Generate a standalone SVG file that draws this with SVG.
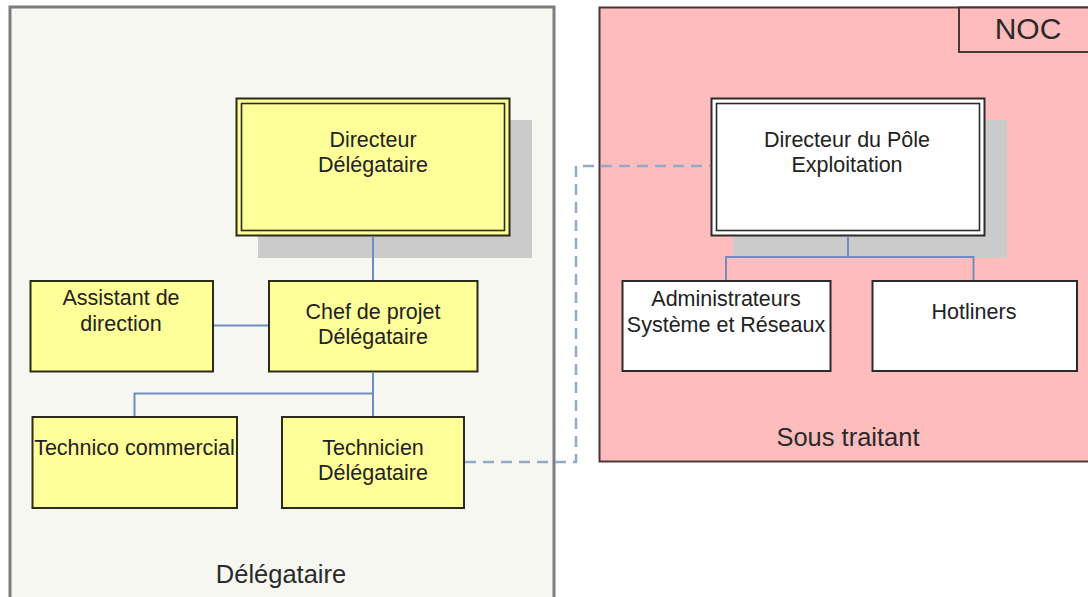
<svg xmlns="http://www.w3.org/2000/svg" width="1088" height="597" viewBox="0 0 1088 597">
<style>
.t{font-family:"Liberation Sans",Arial,sans-serif;font-size:21.5px;fill:#222;text-anchor:middle}
.lbl{font-family:"Liberation Sans",Arial,sans-serif;font-size:25.5px;fill:#2a2a2a;text-anchor:middle}
.ybox{fill:#ffff99;stroke:#2b2b1a;stroke-width:2}
.wbox{fill:#ffffff;stroke:#2b2b2b;stroke-width:2}
.shadow{fill:#cbcbcb}
.conn{fill:none;stroke:#6f8dc0;stroke-width:2}
.dash{fill:none;stroke:#93a8cb;stroke-width:2.5;stroke-dasharray:11 7}
</style>
<rect width="1088" height="597" fill="#ffffff"/>
<g id="delegataire-container">
<rect x="10" y="7" width="544" height="595" fill="#f7f7f2" stroke="#7d7d7d" stroke-width="3"/>
<text class="lbl" x="281" y="583">Délégataire</text>
</g>
<g id="sous-traitant-container">
<rect x="599.5" y="7.5" width="495" height="454" fill="#ffbcbc" stroke="#4a3838" stroke-width="2"/>
<text class="lbl" x="848" y="446">Sous traitant</text>
</g>
<g id="noc">
<rect x="959" y="7.5" width="140" height="44.5" fill="#ffbcbc" stroke="#4a3838" stroke-width="2"/>
<text x="1028" y="39" font-family="Liberation Sans,Arial,sans-serif" font-size="30" fill="#2a2a2a" text-anchor="middle">NOC</text>
</g>
<g id="directeur-delegataire">
<rect class="shadow" x="258" y="120" width="274" height="138"/>
<rect class="ybox" x="236.5" y="98.5" width="273" height="137"/>
<rect x="241.5" y="103.5" width="263" height="127" fill="none" stroke="#2b2b1a" stroke-width="1.6"/>
<text class="t" x="373" y="147">Directeur</text>
<text class="t" x="373" y="172">Délégataire</text>
</g>
<g id="assistant-direction">
<rect class="ybox" x="30.5" y="281" width="182.5" height="90.5"/>
<text class="t" x="121" y="305">Assistant de</text>
<text class="t" x="121" y="331">direction</text>
</g>
<g id="chef-projet">
<rect class="ybox" x="269" y="281" width="208.5" height="90.5"/>
<text class="t" x="373" y="319">Chef de projet</text>
<text class="t" x="373" y="344">Délégataire</text>
</g>
<g id="technico-commercial">
<rect class="ybox" x="32.5" y="417" width="204.5" height="91"/>
<text class="t" x="134.5" y="455">Technico commercial</text>
</g>
<g id="technicien-delegataire">
<rect class="ybox" x="282" y="417" width="182" height="91"/>
<text class="t" x="373" y="455">Technicien</text>
<text class="t" x="373" y="480">Délégataire</text>
</g>
<g id="directeur-pole">
<rect class="shadow" x="733" y="120" width="274" height="138"/>
<rect class="wbox" x="711.5" y="98.5" width="273" height="137"/>
<rect x="716.5" y="103.5" width="263" height="127" fill="none" stroke="#2b2b2b" stroke-width="1.6"/>
<text class="t" x="847" y="147">Directeur du Pôle</text>
<text class="t" x="847" y="172">Exploitation</text>
</g>
<g id="administrateurs">
<rect class="wbox" x="622.5" y="281" width="208" height="90"/>
<text class="t" x="726" y="306">Administrateurs</text>
<text class="t" x="726" y="332">Système et Réseaux</text>
</g>
<g id="hotliners">
<rect class="wbox" x="872.5" y="281" width="204.5" height="90"/>
<text class="t" x="974" y="319">Hotliners</text>
</g>
<g id="connectors">
<path class="conn" d="M373 237 V280"/>
<path class="conn" d="M214 325.5 H268"/>
<path class="conn" d="M373 372.5 V416 M373 393.5 H134.5 V416"/>
<path class="conn" d="M848 237 V257 M726 280 V257 H973.5 V280"/>
<path class="dash" d="M465 462 H576 V166 H710"/>
</g>
</svg>
